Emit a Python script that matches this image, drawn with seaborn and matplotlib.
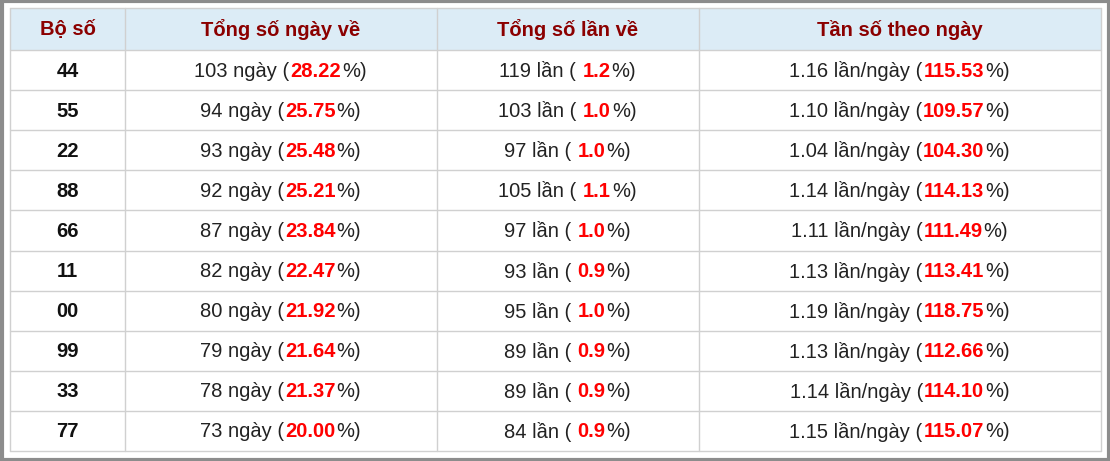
import matplotlib
matplotlib.use("Agg")
import matplotlib.pyplot as plt
import seaborn as sns

sns.set_theme(style="white")
plt.rcParams['font.family'] = ['Liberation Sans', 'DejaVu Sans']

headers = ["Bộ số", "Tổng số ngày về", "Tổng số lần về", "Tần số theo ngày"]
bo_so = ["44", "55", "22", "88", "66", "11", "00", "99", "33", "77"]
so_ngay = [103, 94, 93, 92, 87, 82, 80, 79, 78, 73]
pct_ngay = ["28.22", "25.75", "25.48", "25.21", "23.84", "22.47", "21.92", "21.64", "21.37", "20.00"]
so_lan = [119, 103, 97, 105, 97, 93, 95, 89, 89, 84]
pct_lan = ["1.2", "1.0", "1.0", "1.1", "1.0", "0.9", "1.0", "0.9", "0.9", "0.9"]
tan_so = ["1.16", "1.10", "1.04", "1.14", "1.11", "1.13", "1.19", "1.13", "1.14", "1.15"]
pct_tan = ["115.53", "109.57", "104.30", "114.13", "111.49", "113.41", "118.75", "112.66", "114.10", "115.07"]

W, H = 1110, 461
col_x = [10, 125, 437, 699, 1101]
top, head_h, row_h = 8, 42, 40.1

fig = plt.figure(figsize=(W / 100, H / 100), dpi=100)
ax = fig.add_axes([0, 0, 1, 1])
ax.set_xlim(0, W)
ax.set_ylim(H, 0)
ax.axis("off")

# outer frame
ax.add_patch(plt.Rectangle((1.5, 1.5), W - 3, H - 3, fill=False, ec="#8c8c8c", lw=3))
# header background
ax.add_patch(plt.Rectangle((col_x[0], top), col_x[-1] - col_x[0], head_h, fc="#dcecf6", ec="none"))
bottom = top + head_h + row_h * len(bo_so)
for x in col_x:
    ax.plot([x, x], [top, bottom], color="#d0d0d0", lw=1)
for i in range(len(bo_so) + 2):
    y = top if i == 0 else top + head_h + row_h * (i - 1)
    ax.plot([col_x[0], col_x[-1]], [y, y], color="#d0d0d0", lw=1)

fs = 14.5
red = "#ff0000"
fig.canvas.draw()
renderer = fig.canvas.get_renderer()


def pieces(cx, cy, parts):
    # parts: list of (text, color, bold); placed left to right, centred on cx
    objs, total = [], 0
    for txt, color, bold in parts:
        t = ax.text(0, cy, txt, fontsize=fs, color=color, va="center", ha="left",
                    fontweight="bold" if bold else "normal")
        w = t.get_window_extent(renderer).width + 1
        objs.append((t, w))
        total += w
    x = cx - total / 2
    for t, w in objs:
        t.set_x(x)
        x += w


for j, h in enumerate(headers):
    cx = (col_x[j] + col_x[j + 1]) / 2
    ax.text(cx, top + head_h / 2 + 1, h, fontsize=fs, color="#8b0000", fontweight="bold",
            ha="center", va="center")

for i in range(len(bo_so)):
    cy = top + head_h + row_h * (i + 0.5) + 1
    c = [(col_x[j] + col_x[j + 1]) / 2 for j in range(4)]
    ax.text(c[0], cy, bo_so[i], fontsize=fs, fontweight="bold", color="#111111",
            ha="center", va="center")
    pieces(c[1], cy, [(f"{so_ngay[i]} ngày (", "#222222", False), (pct_ngay[i], red, True), ("%)", "#222222", False)])
    pieces(c[2], cy, [(f"{so_lan[i]} lần ( ", "#222222", False), (pct_lan[i], red, True), ("%)", "#222222", False)])
    pieces(c[3], cy, [(f"{tan_so[i]} lần/ngày (", "#222222", False), (pct_tan[i], red, True), ("%)", "#222222", False)])

fig.savefig("out.png", dpi=100)
